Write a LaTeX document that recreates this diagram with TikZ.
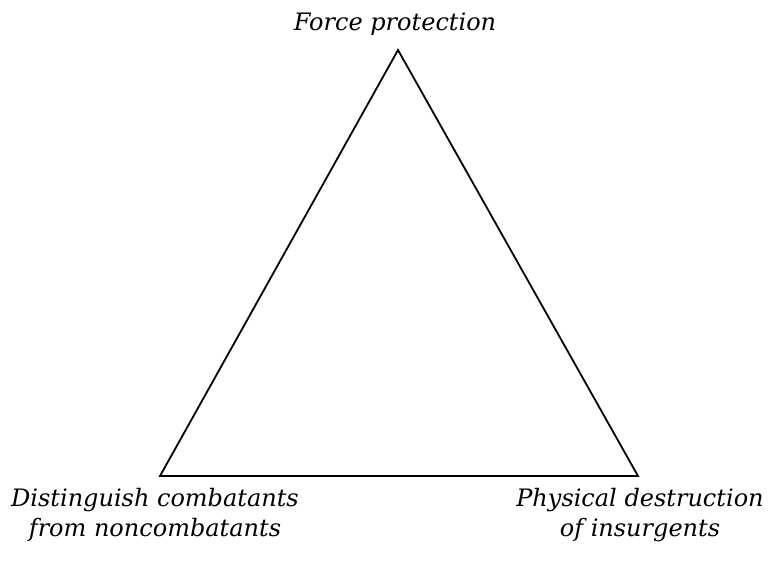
\documentclass[tikz,border=0pt]{standalone}
\usepackage{fontspec}
\setmainfont{DejaVu Serif}

\begin{document}
\begin{tikzpicture}[
    x=1pt, y=-1pt,
    label/.style={font=\itshape\fontsize{24}{30}\selectfont, align=center, inner sep=0pt},
    edge/.style={draw, line width=1.8pt, line join=miter}
]
\useasboundingbox (0,0) rectangle (771,563);

% corners of the triangle
\coordinate (top) at (398,50);
\coordinate (left) at (160,476);
\coordinate (right) at (638,476);

% labels
\node[label] (force) at (395,24) {Force protection};
\node[label] (distinguish) at (155,515) {Distinguish combatants\\from noncombatants};
\node[label] (physical) at (640,515) {Physical destruction\\of insurgents};

% Triangle
\draw[edge] (top) -- (right) -- (left) -- cycle;

\end{tikzpicture}
\end{document}
